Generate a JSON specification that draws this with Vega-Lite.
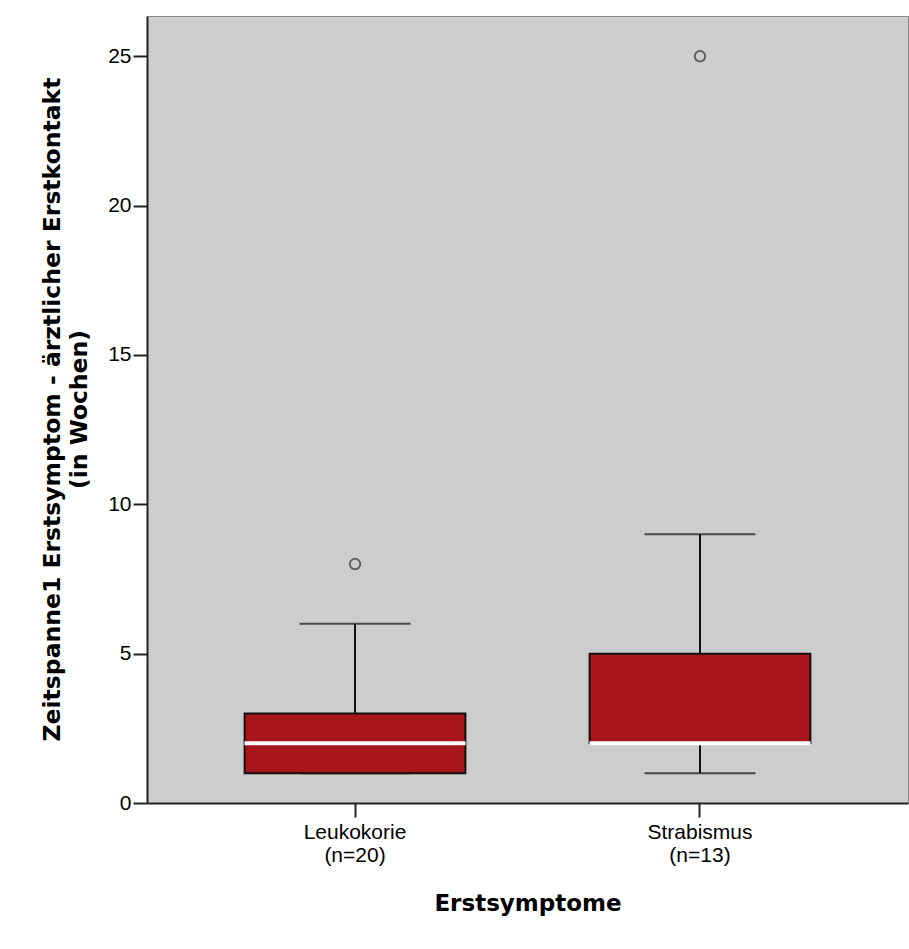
{
  "$schema": "https://vega.github.io/schema/vega-lite/v6.json",
  "width": 761,
  "height": 787,
  "autosize": {"type": "none"},
  "padding": {"left": 147, "top": 16, "right": 1, "bottom": 146},
  "background": "white",
  "config": {
    "view": {"fill": "#cdcdcd", "stroke": "#8a8a8a", "strokeWidth": 1},
    "axis": {"grid": false}
  },
  "datasets": {
    "boxes": [
      {"group": "Leukokorie", "lower": 1, "q1": 1, "median": 2, "q3": 3, "upper": 6},
      {"group": "Strabismus", "lower": 1, "q1": 2, "median": 2, "q3": 5, "upper": 9}
    ],
    "outliers": [
      {"group": "Leukokorie", "value": 8},
      {"group": "Strabismus", "value": 25}
    ]
  },
  "encoding": {
    "x": {
      "field": "group",
      "type": "nominal",
      "sort": ["Leukokorie", "Strabismus"],
      "scale": {"paddingInner": 0.36, "paddingOuter": 0.283},
      "axis": {
        "title": "Erstsymptome",
        "titleFont": "DejaVu Sans",
        "titleFontSize": 23,
        "titleFontWeight": "bold",
        "titleColor": "black",
        "titleBaseline": "alphabetic",
        "titleY": 107,
        "labelExpr": "datum.value == 'Leukokorie' ? ['Leukokorie', '(n=20)'] : ['Strabismus', '(n=13)']",
        "labelAngle": 0,
        "labelFont": "Liberation Sans",
        "labelFontSize": 21,
        "labelColor": "black",
        "labelLineHeight": 23,
        "labelPadding": 4,
        "tickSize": 14,
        "tickWidth": 2,
        "tickColor": "#222",
        "domainColor": "#222",
        "domainWidth": 2
      }
    }
  },
  "layer": [
    {
      "data": {"name": "boxes"},
      "mark": {"type": "rule", "color": "#111", "strokeWidth": 2},
      "encoding": {
        "y": {
          "field": "lower",
          "type": "quantitative",
          "scale": {"domain": [0, 26.35], "nice": false, "zero": false},
          "axis": {
            "title": ["Zeitspanne1 Erstsymptom - ärztlicher Erstkontakt", "(in Wochen)"],
            "titleFont": "DejaVu Sans",
            "titleFontSize": 23.5,
            "titleFontWeight": "bold",
            "titleColor": "black",
            "titleLineHeight": 27,
            "titleBaseline": "middle",
            "titleX": -95,
            "titleY": 393,
            "titleAngle": -90,
            "titleAlign": "center",
            "values": [0, 5, 10, 15, 20, 25],
            "labelFont": "Liberation Sans",
            "labelFontSize": 21,
            "labelColor": "black",
            "labelPadding": 2,
            "tickSize": 14,
            "tickWidth": 2,
            "tickColor": "#222",
            "domainColor": "#222",
            "domainWidth": 2
          }
        },
        "y2": {"field": "upper"}
      }
    },
    {
      "data": {"name": "boxes"},
      "mark": {"type": "tick", "color": "#111", "thickness": 2, "size": 111},
      "encoding": {"y": {"field": "upper", "type": "quantitative"}}
    },
    {
      "data": {"name": "boxes"},
      "mark": {"type": "tick", "color": "#111", "thickness": 2, "size": 111},
      "encoding": {"y": {"field": "lower", "type": "quantitative"}}
    },
    {
      "data": {"name": "boxes"},
      "mark": {"type": "bar", "fill": "#a8161c", "stroke": "#111", "strokeWidth": 2},
      "encoding": {
        "y": {"field": "q1", "type": "quantitative"},
        "y2": {"field": "q3"}
      }
    },
    {
      "data": {"name": "boxes"},
      "mark": {"type": "tick", "color": "white", "thickness": 4, "size": 221, "opacity": 1},
      "encoding": {"y": {"field": "median", "type": "quantitative"}}
    },
    {
      "data": {"name": "outliers"},
      "mark": {"type": "point", "shape": "circle", "filled": false, "stroke": "#333", "strokeWidth": 2, "size": 110},
      "encoding": {"y": {"field": "value", "type": "quantitative"}}
    }
  ]
}
